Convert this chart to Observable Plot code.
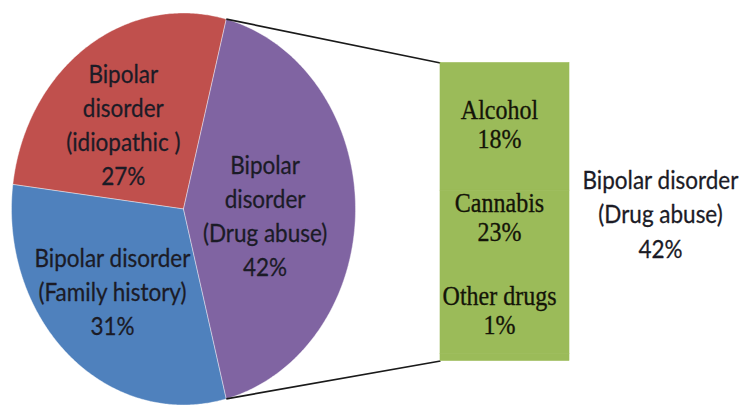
<!DOCTYPE html>
<html><head><meta charset="utf-8">
<script src="https://cdn.jsdelivr.net/npm/d3@7"></script>
<script src="https://cdn.jsdelivr.net/npm/@observablehq/plot@0.6"></script>
<style>html,body{margin:0;padding:0;background:#fff;overflow:hidden;}</style>
</head><body><div id="chart"></div>
<script>
// ---------- DATA ----------
const sliceLabels = ["Bipolar\ndisorder\n(idiopathic )", "Bipolar disorder\n(Family history)", "Bipolar\ndisorder\n(Drug abuse)"];
const sliceValues = [27, 31, 42];
const drugLabels = ["Alcohol", "Cannabis", "Other drugs"];
const drugValues = [18, 23, 1];
const detailLabel = "Bipolar disorder\n(Drug abuse)";

// ---------- LAYOUT / STYLE ----------
const W = 743, H = 408;
const CX = 183, CY = 208.5, RX = 172, RY = 196;
const BAR = {x1: 440, x2: 569, top: 62.5, bottom: 360.5};
const sliceColors = ["#C0504D", "#4F81BD", "#8064A2"];
const barColor = "#9BBB59";
const labelPolar = [[0.56, 4.5], [0.585, -3.5], [0.475, -3.0]]; // radius fraction, angle tweak (deg)
const drugLabelX = 499, drugLabelY0 = 123.5, drugLabelStep = 93;
const detailX = 660, detailY = 212;
const VSTRETCH = 1.14;

// ---------- GEOMETRY FROM DATA ----------
const total = d3.sum(sliceValues);
const detailIdx = sliceValues.length - 1;
const half = sliceValues[detailIdx] / total * Math.PI;
const pt = (a, r = 1) => ({x: CX + RX * r * Math.cos(a), y: CY - RY * r * Math.sin(a)});

const slicePts = [];
const labelPts = [];
let a0 = half;
sliceValues.forEach((v, i) => {
  const span = v / total * 2 * Math.PI;
  const a1 = a0 + span;
  slicePts.push({slice: i, ...pt(0, 0)});
  const n = Math.max(2, Math.ceil(span / (Math.PI / 360)));
  for (let k = 0; k <= n; k++) slicePts.push({slice: i, ...pt(a0 + span * k / n)});
  slicePts.push({slice: i, ...pt(0, 0)});
  const mid = (a0 + a1) / 2 + labelPolar[i][1] * Math.PI / 180;
  labelPts.push({text: `${sliceLabels[i]}\n${v}%`, ...pt(mid, labelPolar[i][0])});
  a0 = a1;
});

const drugTotal = d3.sum(drugValues);
const barY = d3.scaleLinear([0, drugTotal], [BAR.top, BAR.bottom]);
let acc = 0;
const barRects = drugValues.map((v, i) => {
  const r = {name: drugLabels[i], y1: barY(acc), y2: barY(acc + v)};
  acc += v; return r;
});
const drugText = drugValues.map((v, i) => ({
  text: `${drugLabels[i]}\n${v}%`, x: drugLabelX, y: drugLabelY0 + drugLabelStep * i
}));
const detailText = [{text: `${detailLabel}\n${sliceValues[detailIdx]}%`, x: detailX, y: detailY}];

const topPt = pt(half), botPt = pt(-half);
const connectors = [
  {x1: topPt.x, y1: topPt.y, x2: BAR.x1, y2: barY(0)},
  {x1: botPt.x, y1: botPt.y, x2: BAR.x1, y2: barY(drugTotal)}
];

const sansText = {x: "x", y: "y", text: "text", fontFamily: "Lato", fontSize: 22.5, lineHeight: 1.33,
  fill: "#1b1b26", stroke: "#1b1b26", strokeWidth: 0.25, className: "stretch"};

const chart = Plot.plot({
  width: W, height: H, margin: 0,
  x: {domain: [0, W], range: [0, W], axis: null},
  y: {domain: [0, H], range: [0, H], axis: null},
  color: {type: "ordinal", domain: sliceValues.map((_, i) => i), range: sliceColors},
  style: {background: "#fff"},
  marks: [
    Plot.line(slicePts, {x: "x", y: "y", z: "slice", fill: "slice", stroke: "#ffffff", strokeWidth: 0.8, strokeOpacity: 0.5}),
    Plot.link(connectors, {x1: "x1", y1: "y1", x2: "x2", y2: "y2", stroke: "#1a1a1a", strokeWidth: 1.7}),
    Plot.rect(barRects, {x1: BAR.x1, x2: BAR.x2, y1: "y1", y2: "y2", fill: barColor, stroke: barColor, strokeWidth: 0.6}),
    Plot.text(labelPts, sansText),
    Plot.text(drugText, {x: "x", y: "y", text: "text", fontFamily: "Liberation Serif", fontSize: 24, lineHeight: 1.05,
      fill: "#141408", stroke: "#141408", strokeWidth: 0.3, className: "stretch"}),
    Plot.text(detailText, sansText)
  ]
});
// stretch text glyphs vertically to match the reference's aspect
chart.querySelectorAll("g.stretch text").forEach(t => {
  const tr = t.getAttribute("transform") || "";
  t.setAttribute("transform", `${tr} scale(1,${VSTRETCH})`);
});
document.getElementById("chart").appendChild(chart);
</script>
</body></html>
